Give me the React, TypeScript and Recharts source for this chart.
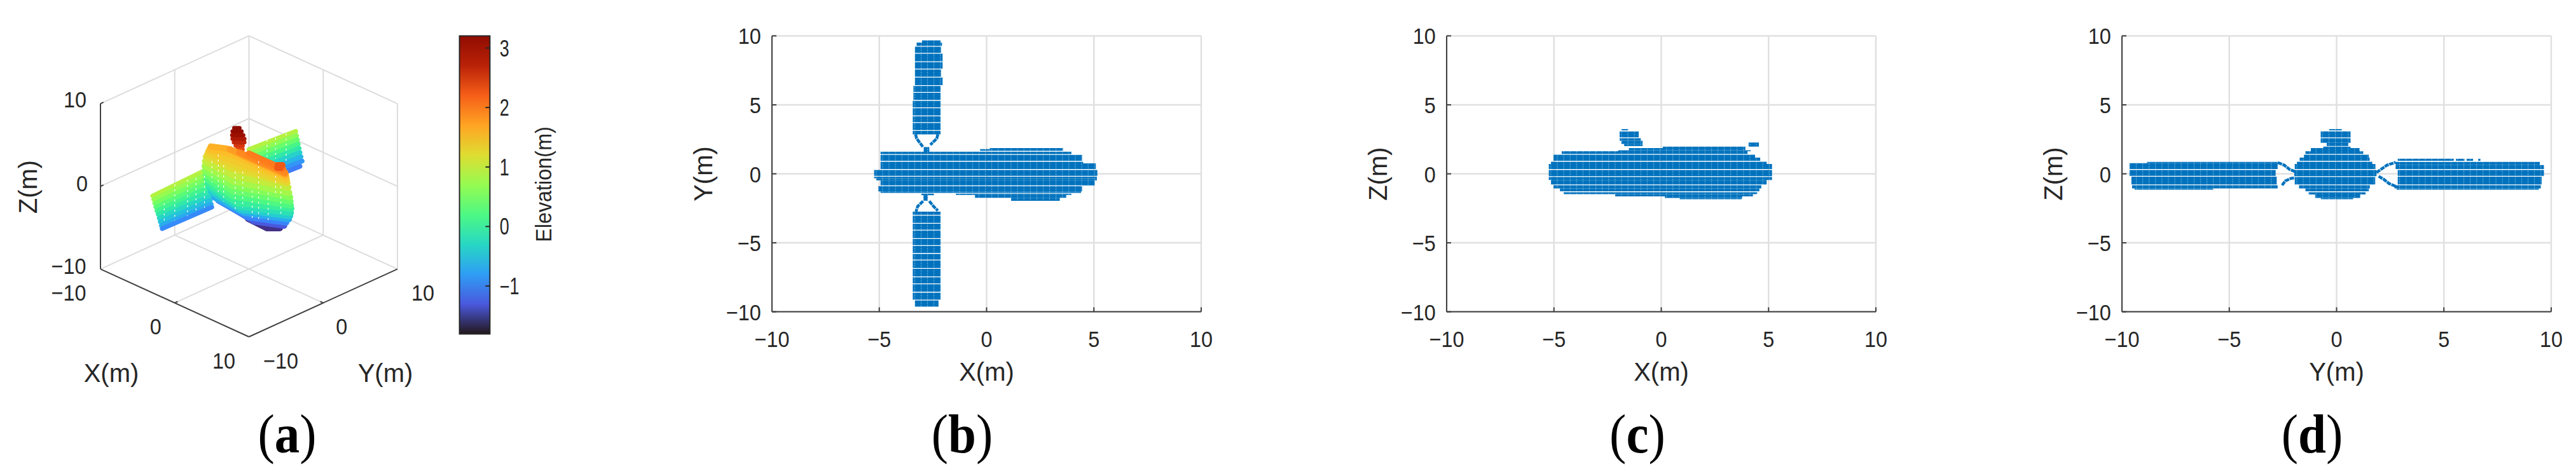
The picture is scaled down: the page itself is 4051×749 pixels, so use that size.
import { ScatterChart, Scatter, XAxis, YAxis, CartesianGrid, ReferenceArea } from "recharts";

// point cloud rows: [top, bottom, from, to] in metres
type Band = [number, number, number, number];

const topBodyBands: Band[] = [
  [1.86, 1.67, 0.15, 3.56], [1.79, 1.67, -0.3, 0.15], [1.6, 1.43, -4.94, 3.95],
  [1.37, 0.94, -4.94, 4.45], [0.88, 0.76, -4.94, 4.5], [0.76, 0.34, -4.94, 5.09],
  [0.28, -0.15, -5.24, 5.16], [-0.21, -0.32, -5.24, 5.14], [-0.32, -0.47, -5.14, 5.14],
  [-0.47, -0.84, -4.94, 5.04], [-0.9, -1.28, -5.04, 4.45], [-1.28, -1.38, -4.94, 4.4],
  [-1.44, -1.53, -1.43, 3.95], [-1.53, -1.74, -0.54, 3.71], [-1.74, -1.96, 1.14, 3.41],
  [1.94, 1.56, -2.93, -2.67], [-1.44, -1.55, -3.04, -2.45], [-1.55, -1.95, -2.94, -2.74],
];
const topUpperWingBands: Band[] = [
  [9.67, 9.51, -3.01, -2.14], [9.51, 9.27, -3.26, -2.08], [9.21, 8.76, -3.34, -2.12],
  [8.7, 8.15, -3.34, -2.05], [8.09, 7.62, -3.34, -2.05], [7.56, 7.04, -3.34, -2.12],
  [6.98, 6.43, -3.34, -2.05], [6.37, 5.93, -3.41, -2.14], [5.87, 5.35, -3.41, -2.14],
  [5.29, 4.81, -3.44, -2.14], [4.75, 4.23, -3.44, -2.14], [4.17, 3.74, -3.44, -2.14],
  [3.68, 3.17, -3.44, -2.14], [3.11, 2.86, -3.44, -2.14],
];
const topLowerWingBands: Band[] = [
  [-2.74, -2.97, -3.44, -2.14], [-3.03, -3.56, -3.44, -2.14], [-3.62, -4.05, -3.44, -2.14],
  [-4.11, -4.66, -3.44, -2.14], [-4.72, -5.17, -3.44, -2.14], [-5.23, -5.74, -3.44, -2.14],
  [-5.8, -6.22, -3.44, -2.14], [-6.28, -6.83, -3.44, -2.14], [-6.89, -7.44, -3.44, -2.14],
  [-7.5, -7.94, -3.44, -2.14], [-8.0, -8.55, -3.44, -2.14], [-8.61, -9.12, -3.44, -2.14],
  [-9.18, -9.63, -3.34, -2.24],
];
const topStruts = [
  [[-3.31, 2.86], [-3.26, 2.56], [-2.96, 1.94]],
  [[-2.27, 2.86], [-2.32, 2.56], [-2.62, 2.1]],
  [[-2.96, -1.98], [-3.21, -2.36], [-3.29, -2.74]],
  [[-2.67, -1.98], [-2.47, -2.36], [-2.27, -2.67]],
];

const sideBands: Band[] = [
  [3.24, 3.15, -1.86, -1.54], [3.07, 2.64, -1.94, -1.05], [2.58, 2.4, -1.94, -0.95],
  [2.4, 2.17, -1.86, -0.87], [2.17, 2.01, -1.73, -0.87], [2.27, 1.97, 4.07, 4.55],
  [1.97, 1.71, 0.07, 3.92], [1.86, 1.71, -1.51, 0.12], [1.71, 1.63, -2.01, 4.17],
  [1.63, 1.44, -4.64, 4.02], [1.38, 1.17, -5.02, 4.37], [1.17, 0.94, -5.02, 4.61],
  [0.88, 0.71, -5.14, 4.91], [0.71, 0.34, -5.24, 5.16], [0.28, -0.17, -5.24, 5.16],
  [-0.23, -0.45, -5.24, 5.16], [-0.45, -0.77, -5.14, 4.91], [-0.83, -1.06, -5.02, 4.66],
  [-1.06, -1.27, -4.72, 4.57], [-1.34, -1.47, -4.55, 4.47], [-1.47, -1.63, -2.15, 4.27],
  [-1.63, -1.75, 0.17, 3.77], [-1.75, -1.84, 0.86, 3.75],
];

const frontBodyBands: Band[] = [
  [3.24, 3.15, -0.35, 0.25], [3.07, 2.64, -0.74, 0.65], [2.58, 2.24, -0.74, 0.65],
  [2.24, 2.01, -0.46, 0.55], [1.97, 1.86, -0.62, 0.65], [1.86, 1.63, -1.2, 1.07],
  [1.63, 1.44, -1.45, 1.24], [1.38, 1.17, -1.52, 1.5], [1.17, 0.94, -1.72, 1.54],
  [0.88, 0.71, -1.85, 1.66], [0.71, 0.34, -1.95, 1.81], [0.28, -0.17, -1.97, 1.86],
  [-0.23, -0.77, -1.95, 1.8], [-0.83, -1.06, -1.75, 1.55], [-1.06, -1.27, -1.45, 1.5],
  [-1.34, -1.5, -1.3, 1.35], [-1.5, -1.75, -1.0, 1.1], [-1.75, -1.84, -0.73, 0.77],
];
const frontWingBands: Band[] = [
  [0.86, 0.77, -8.83, -2.74], [0.77, 0.34, -9.65, -2.74], [0.28, -0.15, -9.65, -2.84],
  [-0.21, -0.77, -9.56, -2.79], [-0.83, -1.06, -9.53, -2.74], [-1.06, -1.15, -9.41, -5.75],
  [1.09, 0.94, 2.85, 5.46], [1.09, 0.94, 5.56, 5.96], [1.09, 0.94, 6.06, 6.36], [1.09, 0.94, 6.6, 6.7],
  [0.86, 0.63, 2.75, 9.47], [0.63, 0.34, 2.75, 9.66], [0.28, -0.15, 2.85, 9.66],
  [-0.21, -0.77, 2.85, 9.56], [-0.83, -1.06, 2.7, 9.52], [-1.06, -1.15, 2.8, 9.42],
];
const frontStruts = [
  [[-2.74, 0.81], [-2.44, 0.63], [-2.19, 0.32], [-1.95, 0.17]],
  [[-2.54, -0.83], [-2.39, -0.52], [-2.14, -0.34], [-1.95, -0.29]],
  [[1.86, 0.09], [2.11, 0.37], [2.35, 0.63], [2.75, 0.83]],
  [[1.96, -0.18], [2.2, -0.4], [2.45, -0.71], [2.75, -0.9]],
];

const axisTicks = [-10, -5, 0, 5, 10];
const cubeTicks = [-10, 0, 10];
const elevationTicks = [-1, 0, 1, 2, 3];
const elevationDomain = [-1.807, 3.204];

// cloud of panel (a), elevation bands as seen on the view plane: z, then [u, v] points
type IsoLine = { z: number; pts: number[][] };

const rightWingLines: IsoLine[] = [
  { z: 0.9, pts: [[0.01, 4.45], [6.3, 6.65]] },
  { z: 0.65, pts: [[0.13, 3.94], [6.41, 6.14]] },
  { z: 0.4, pts: [[0.24, 3.42], [6.53, 5.63]] },
  { z: 0.15, pts: [[0.36, 2.91], [6.64, 5.11]] },
  { z: -0.1, pts: [[0.47, 2.4], [6.76, 4.6]] },
  { z: -0.35, pts: [[0.59, 1.89], [6.87, 4.09]] },
  { z: -0.6, pts: [[0.73, 1.37], [7.01, 3.58]] },
  { z: -0.85, pts: [[0.87, 0.86], [7.16, 3.06]] },
  { z: -1.05, pts: [[4.01, 1.4], [6.87, 2.42]] },
];
const leftWingLines: IsoLine[] = [
  { z: 0.9, pts: [[-12.99, -1.16], [-5.99, 1.91]] },
  { z: 0.7, pts: [[-12.84, -1.6], [-5.87, 1.4]] },
  { z: 0.5, pts: [[-12.7, -2.06], [-5.76, 0.89]] },
  { z: 0.3, pts: [[-12.56, -2.5], [-5.64, 0.37]] },
  { z: 0.1, pts: [[-12.41, -2.96], [-5.53, -0.14]] },
  { z: -0.1, pts: [[-12.24, -3.39], [-5.41, -0.65]] },
  { z: -0.3, pts: [[-12.1, -3.85], [-5.3, -1.17]] },
  { z: -0.5, pts: [[-11.96, -4.29], [-5.19, -1.68]] },
  { z: -0.7, pts: [[-11.81, -4.75], [-5.07, -2.14]] },
  { z: -0.95, pts: [[-11.7, -5.13], [-4.99, -2.52]] },
];
const bodyLines: IsoLine[] = [
  { z: -1.6, pts: [[-0.13, -3.9], [2.44, -5.06], [4.16, -5.06]] },
  { z: -1.3, pts: [[-2.13, -2.7], [0.73, -4.24], [4.73, -4.75]] },
  { z: -1.0, pts: [[-4.13, -1.68], [-0.13, -3.73], [5.01, -4.37]] },
  { z: -0.7, pts: [[-4.7, -1.29], [-0.7, -3.2], [5.36, -3.98]] },
  { z: -0.4, pts: [[-5.1, -0.65], [-0.99, -2.85], [5.53, -3.6]] },
  { z: -0.2, pts: [[-5.33, -0.14], [-1.27, -2.45], [5.64, -3.21]] },
  { z: 0, pts: [[-5.56, 0.37], [-1.56, -2.0], [5.7, -2.7]] },
  { z: 0.2, pts: [[-5.67, 0.89], [-2.13, -1.2], [5.64, -2.32]] },
  { z: 0.4, pts: [[-5.79, 1.4], [-2.13, -0.6], [5.59, -1.81]] },
  { z: 0.6, pts: [[-5.9, 1.91], [-2.13, 0], [5.53, -1.3]] },
  { z: 0.8, pts: [[-5.96, 2.45], [-2.13, 0.6], [5.41, -0.78]] },
  { z: 1.0, pts: [[-5.9, 3.01], [-2.13, 1.3], [5.3, -0.14]] },
  { z: 1.2, pts: [[-5.79, 3.58], [-2.13, 2.1], [5.16, 0.37]] },
  { z: 1.3, pts: [[-5.6, 3.9], [-2.13, 2.6], [5.1, 0.6]] },
  { z: 1.4, pts: [[-5.47, 4.22], [-2.13, 3.1], [5.07, 0.89]] },
  { z: 1.5, pts: [[-5.3, 4.5], [-2.13, 3.8], [5.0, 1.15]] },
  { z: 1.6, pts: [[-5.13, 4.81], [-2.99, 4.55], [-0.41, 3.7], [4.96, 1.4]] },
  { z: 1.75, pts: [[-2.6, 4.5], [0, 3.4], [4.9, 1.45]] },
  { z: 1.9, pts: [[-1.27, 4.09], [4.87, 1.66]] },
  { z: 2.0, pts: [[0.01, 3.96], [4.59, 2.09]] },
  { z: 2.25, pts: [[3.87, 2.55], [4.5, 2.55]] },
  { z: 2.25, pts: [[3.81, 2.24], [4.3, 2.24]] },
];
const antennaLines: IsoLine[] = [
  { z: 2.35, pts: [[-1.56, 4.47], [-0.84, 4.47]] },
  { z: 2.5, pts: [[-1.79, 4.91], [-0.84, 4.91]] },
  { z: 2.65, pts: [[-2.04, 5.32], [-0.61, 5.32]] },
  { z: 2.8, pts: [[-2.21, 5.75], [-0.61, 5.75]] },
  { z: 2.95, pts: [[-2.27, 6.19], [-0.76, 6.19]] },
  { z: 3.1, pts: [[-2.21, 6.65], [-0.99, 6.65]] },
  { z: 3.2, pts: [[-1.99, 7.04], [-1.27, 7.04]] },
];
const cloudGaps = [
  [-4.99, 3.06, 0.5], [-4.13, 3.83, -0.78], [-3.41, 2.55, -1.81], [-1.84, 1.78, -3.09], [-0.84, 1.78, -2.58],
  [0.44, -0.53, -4.11], [1.3, 3.06, -4.11], [2.59, -0.78, -4.11], [3.59, 1.27, -1.04], [4.3, 0, -3.6],
  [-11.41, -2.06, -4.37], [-9.99, 0.25, -4.11], [-8.27, 0.78, -3.6], [-7.13, 1.01, -3.09], [-5.99, 1.27, -2.58],
  [2.44, 5.62, 3.58], [3.59, 5.88, 3.32], [5.01, 6.39, 3.06],
];

const INK = "#262626";
const GRID = "#e0e0e0";
const BLUE = "#0072bd";
const SANS = "'Liberation Sans', Arial, sans-serif";
const PX_PER_M = 21.72;

const noDot = () => <g />;

function turbo(z: number) {
  const t = Math.max(0, Math.min(1, (z - elevationDomain[0]) / (elevationDomain[1] - elevationDomain[0])));
  const r = 34.61 + t * (1172.33 - t * (10793.56 - t * (33300.12 - t * (38394.49 - t * 14825.05))));
  const g = 23.31 + t * (557.33 + t * (1225.33 - t * (3574.96 - t * (1073.77 + t * 707.56))));
  const b = 27.2 + t * (3211.1 - t * (15327.97 - t * (27814 - t * (22569.18 - t * 6838.66))));
  return `rgb(${Math.round(r)},${Math.round(g)},${Math.round(b)})`;
}

function fmt(v: number) {
  return String(v).replace("-", "\u2212");
}

function AxisTick(props: any) {
  const { x, y, textAnchor, payload, narrow } = props;
  return (
    <text
      transform={`translate(${x},${y + 13}) scale(${narrow ? 0.75 : 0.9},1)`}
      textAnchor={textAnchor}
      fontSize={36}
      fontFamily={SANS}
      fill={INK}
    >
      {fmt(payload.value)}
    </text>
  );
}

function bandSeries(bands: Band[], pattern: string, key: string) {
  return bands.map((b, i) => {
    const y = (b[0] + b[1]) / 2;
    return (
      <Scatter
        key={key + i}
        data={[{ x: b[2], y }, { x: b[3], y }]}
        line={{ stroke: pattern, strokeWidth: (b[0] - b[1]) * PX_PER_M }}
        shape={noDot}
        isAnimationActive={false}
      />
    );
  });
}

function Panel({ id, left, xName, yName, bands, struts }: { id: string; left: number; xName: string; yName: string; bands: Band[]; struts: number[][][] }) {
  const axisStyle = { stroke: "#404040", strokeWidth: 2 };
  const titleStyle = { fontSize: 40, fill: INK, fontFamily: SANS, textAnchor: "middle" as const };
  return (
    <div style={{ position: "absolute", left: left - 170, top: 0 }}>
      <ScatterChart width={906} height={749} margin={{ top: 56.4, right: 61, bottom: 0, left: 0 }}>
        <defs>
          <pattern id={id} patternUnits="userSpaceOnUse" width={10.1} height={3.9}>
            <rect width={10.1} height={3.9} fill={BLUE} />
            <rect x={0} y={0} width={1.1} height={2.4} fill="#6aaedd" />
          </pattern>
        </defs>
        <CartesianGrid stroke={GRID} strokeWidth={2.5} />
        <XAxis
          type="number"
          dataKey="x"
          domain={[-10, 10]}
          ticks={axisTicks}
          interval={0}
          height={258.4}
          tickSize={-7}
          tickMargin={49.5}
          tick={<AxisTick />}
          axisLine={axisStyle}
          tickLine={axisStyle}
          label={{ value: xName, position: "insideTop", offset: 80, style: titleStyle }}
        />
        <YAxis
          type="number"
          dataKey="y"
          domain={[-10, 10]}
          ticks={axisTicks}
          interval={0}
          width={170}
          tickSize={-7}
          tickMargin={24.3}
          tick={<AxisTick />}
          axisLine={axisStyle}
          tickLine={axisStyle}
          label={{ value: yName, angle: -90, position: "insideLeft", offset: 62, style: titleStyle }}
        />
        {bandSeries(bands, `url(#${id})`, id)}
        {struts.map((s, i) => (
          <Scatter
            key={id + "s" + i}
            data={s.map((p) => ({ x: p[0], y: p[1] }))}
            line={{ stroke: BLUE, strokeWidth: 4.5, strokeDasharray: "7 1" }}
            shape={noDot}
            isAnimationActive={false}
          />
        ))}
      </ScatterChart>
    </div>
  );
}

// view plane of panel (a)
const toView = (X: number, Y: number, Z: number) => ({ x: X + Y, y: Z - 0.41 * (X - Y) });

const cubeGrid = [
  [[-10, -10, 10], [-10, 10, 10]], [[-10, 10, 10], [10, 10, 10]], [[-10, -10, 0], [-10, 10, 0]], [[-10, 10, 0], [10, 10, 0]],
  [[-10, 10, -10], [-10, 10, 10]], [[-10, 0, -10], [-10, 0, 10]], [[0, 10, -10], [0, 10, 10]], [[10, 10, -10], [10, 10, 10]],
  [[-10, -10, -10], [-10, 10, -10]], [[-10, 10, -10], [10, 10, -10]], [[0, -10, -10], [0, 10, -10]], [[-10, 0, -10], [10, 0, -10]],
];
const cubeAxes = [
  [[-10, -10, -10], [-10, -10, 10]], [[-10, -10, -10], [10, -10, -10]], [[10, -10, -10], [10, 10, -10]],
  [[0, -10, -10], [0, -9.6, -10]], [[10, 0, -10], [9.6, 0, -10]], [[-10, -10, 0], [-10, -9.6, 0]], [[-10, -10, 10], [-10, -9.6, 10]],
];

function cubeLabel(dx: number, dy: number) {
  return (props: any) => (
    <text
      transform={`translate(${props.cx + dx},${props.cy + dy + 13}) scale(0.9,1)`}
      textAnchor="middle"
      fontSize={36}
      fontFamily={SANS}
      fill={INK}
    >
      {props.payload.text}
    </text>
  );
}

const xLabelOffsets = [[-50, 37], [-30, 36], [-39.5, 37]];
const yLabelOffsets = [[50, 37], [29, 36], [40, 37]];
const zLabelOffsets = [[-50, -5], [-29, -5], [-40, -7]];

function cloudLines(lines: IsoLine[], width: number, key: string) {
  return lines.map((l, i) => (
    <Scatter
      key={key + i}
      data={l.pts.map((p) => ({ x: p[0], y: p[1] }))}
      line={{ stroke: turbo(l.z), strokeWidth: width, strokeLinecap: "round", strokeLinejoin: "round" }}
      shape={noDot}
      isAnimationActive={false}
    />
  ));
}

function CubePanel() {
  return (
    <div style={{ position: "absolute", left: 0, top: 0 }}>
      <ScatterChart width={700} height={749} margin={{ top: 56.4, right: 75, bottom: 219, left: 158 }}>
        <XAxis type="number" dataKey="x" domain={[-20, 20]} hide />
        <YAxis type="number" dataKey="y" domain={[-18.2, 18.2]} hide />
        {cubeGrid.map((s, i) => (
          <Scatter
            key={"g" + i}
            data={s.map((p) => toView(p[0], p[1], p[2]))}
            line={{ stroke: "#dcdcdc", strokeWidth: 2 }}
            shape={noDot}
            isAnimationActive={false}
          />
        ))}
        {cubeAxes.map((s, i) => (
          <Scatter
            key={"a" + i}
            data={s.map((p) => toView(p[0], p[1], p[2]))}
            line={{ stroke: "#404040", strokeWidth: 2 }}
            shape={noDot}
            isAnimationActive={false}
          />
        ))}
        {cloudLines(rightWingLines, 7.5, "rw")}
        {cloudLines(leftWingLines, 7, "lw")}
        {cloudLines(antennaLines, 6.5, "an")}
        {cloudLines(bodyLines, 10, "bd")}
        {cloudGaps.map((g, i) => (
          <Scatter
            key={"w" + i}
            data={[{ x: g[0], y: g[1] }, { x: g[0], y: g[2] }]}
            line={{ stroke: "#ffffff", strokeWidth: 1.2, strokeDasharray: "3 5" }}
            shape={noDot}
            isAnimationActive={false}
          />
        ))}
        {cubeTicks.map((t, i) => (
          <Scatter key={"xl" + i} data={[{ ...toView(t, -10, -10), text: fmt(t) }]} shape={cubeLabel(xLabelOffsets[i][0], xLabelOffsets[i][1])} isAnimationActive={false} />
        ))}
        {cubeTicks.map((t, i) => (
          <Scatter key={"yl" + i} data={[{ ...toView(10, t, -10), text: fmt(t) }]} shape={cubeLabel(yLabelOffsets[i][0], yLabelOffsets[i][1])} isAnimationActive={false} />
        ))}
        {cubeTicks.map((t, i) => (
          <Scatter key={"zl" + i} data={[{ ...toView(-10, -10, t), text: fmt(t) }]} shape={cubeLabel(zLabelOffsets[i][0], zLabelOffsets[i][1])} isAnimationActive={false} />
        ))}
      </ScatterChart>
    </div>
  );
}

const colorStops = [0, 0.1, 0.2, 0.3, 0.4, 0.5, 0.6, 0.7, 0.8, 0.9, 1];

function Colorbar() {
  const axisStyle = { stroke: INK, strokeWidth: 2 };
  const span = elevationDomain[1] - elevationDomain[0];
  const ends = [{ x: 0, y: elevationDomain[0] }, { x: 1, y: elevationDomain[1] }];
  return (
    <div style={{ position: "absolute", left: 690, top: 0 }}>
      <ScatterChart width={360} height={749} margin={{ top: 56.4, right: 0, bottom: 223.4, left: 32.6 }}>
        <defs>
          <linearGradient id="turboRamp" x1="0" y1="1" x2="0" y2="0">
            {colorStops.map((s) => (
              <stop key={s} offset={s} stopColor={turbo(elevationDomain[0] + s * span)} />
            ))}
          </linearGradient>
        </defs>
        <XAxis type="number" dataKey="x" domain={[0, 1]} hide />
        <YAxis
          type="number"
          dataKey="y"
          orientation="right"
          domain={elevationDomain}
          ticks={elevationTicks}
          interval={0}
          width={279.6}
          tickSize={-7}
          tickMargin={22.3}
          tick={<AxisTick narrow />}
          axisLine={false}
          tickLine={axisStyle}
        />
        <ReferenceArea x1={0} x2={1} y1={elevationDomain[0]} y2={elevationDomain[1]} fill="url(#turboRamp)" fillOpacity={1} stroke={INK} strokeWidth={2} />
        <Scatter data={ends} shape={noDot} isAnimationActive={false} />
      </ScatterChart>
    </div>
  );
}

const captions = [
  { letter: "a", x: 451.5 },
  { letter: "b", x: 1513 },
  { letter: "c", x: 2575 },
  { letter: "d", x: 3636 },
];

export default function App() {
  const title = { fontSize: 40, fontFamily: SANS, fill: INK };
  return (
    <div style={{ position: "absolute", left: 0, top: 0, width: 4051, height: 749, background: "#fff", overflow: "hidden" }}>
      <CubePanel />
      <Colorbar />
      <Panel id="ptsB" left={1214.2} xName="X(m)" yName="Y(m)" bands={[...topBodyBands, ...topUpperWingBands, ...topLowerWingBands]} struts={topStruts} />
      <Panel id="ptsC" left={2275.2} xName="X(m)" yName="Z(m)" bands={sideBands} struts={[]} />
      <Panel id="ptsD" left={3336.6} xName="Y(m)" yName="Z(m)" bands={[...frontBodyBands, ...frontWingBands]} struts={frontStruts} />
      <svg width={4051} height={749} style={{ position: "absolute", left: 0, top: 0, pointerEvents: "none" }}>
        <text {...title} x={175} y={601} textAnchor="middle">X(m)</text>
        <text {...title} x={606} y={601} textAnchor="middle">Y(m)</text>
        <text {...title} transform="translate(58,294) rotate(-90)" textAnchor="middle">Z(m)</text>
        <text transform="translate(867,290) rotate(-90) scale(0.9,1)" textAnchor="middle" fontSize={36} fontFamily={SANS} fill={INK}>Elevation(m)</text>
        {captions.map((c) => (
          <text key={c.letter} transform={`translate(${c.x},712) scale(0.92,1)`} textAnchor="middle" fontSize={86} fontFamily="'Liberation Serif', serif" fill="#000">
            (<tspan fontWeight="bold">{c.letter}</tspan>)
          </text>
        ))}
      </svg>
    </div>
  );
}
